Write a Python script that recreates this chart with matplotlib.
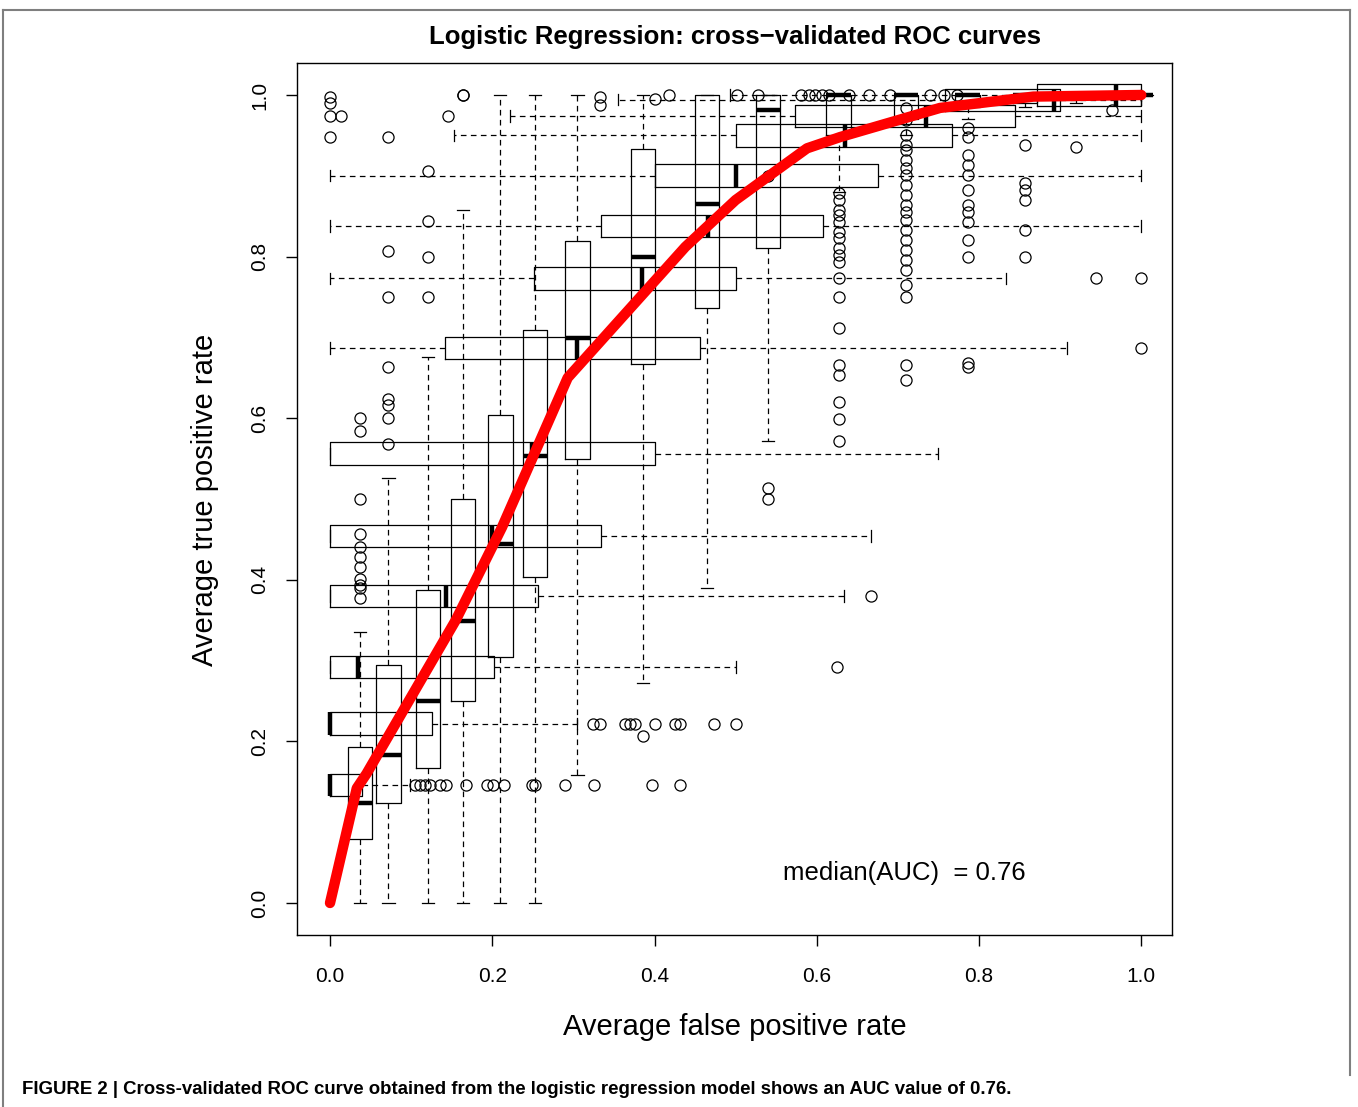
import numpy as np
import matplotlib
matplotlib.use('Agg')
import matplotlib.pyplot as plt
from matplotlib.lines import Line2D

plt.rcParams['font.family'] = ['Liberation Sans', 'DejaVu Sans']

# --- horizontal boxes: spread of FPR at fixed TPR levels ---
h_tpr = [0.146, 0.222, 0.292, 0.380, 0.454, 0.556, 0.687, 0.773, 0.838, 0.900, 0.950, 0.974, 0.994, 1.000]
h_q1 = [0.0, 0.0, 0.0, 0.0, 0.0, 0.0, 0.142, 0.252, 0.334, 0.400, 0.500, 0.573, 0.758, 0.872]
h_med = [0.0, 0.0, 0.035, 0.143, 0.200, 0.249, 0.305, 0.384, 0.466, 0.500, 0.635, 0.735, 0.893, 0.969]
h_q3 = [0.040, 0.126, 0.202, 0.256, 0.334, 0.400, 0.456, 0.500, 0.608, 0.675, 0.767, 0.844, 0.900, 1.0]
h_lo = [0.0, 0.0, 0.0, 0.0, 0.0, 0.0, 0.0, 0.0, 0.0, 0.0, 0.153, 0.222, 0.355, 0.493]
h_hi = [0.098, 0.305, 0.500, 0.633, 0.667, 0.750, 0.909, 0.833, 1.0, 1.0, 1.0, 1.0, 1.0, 1.0]
h_fliers = [
    [0.105, 0.111, 0.117, 0.123, 0.136, 0.143, 0.168, 0.194, 0.201, 0.215,
     0.249, 0.253, 0.290, 0.326, 0.397, 0.432],
    [0.324, 0.333, 0.364, 0.370, 0.376, 0.400, 0.425, 0.432, 0.473, 0.500],
    [0.625],
    [0.667],
    [], [],
    [1.0],
    [0.944, 1.0],
    [], [], [], [], [], [],
]

# --- vertical boxes: spread of TPR at fixed FPR levels ---
v_fpr = [0.037, 0.072, 0.121, 0.164, 0.210, 0.253, 0.305, 0.386, 0.465, 0.540, 0.627, 0.710, 0.786, 0.857, 0.920, 1.000]
v_q1 = [0.079, 0.124, 0.167, 0.250, 0.305, 0.403, 0.550, 0.667, 0.736, 0.811, 0.950, 0.970, 0.985, 0.990, 0.995, 1.0]
v_med = [0.124, 0.183, 0.250, 0.349, 0.444, 0.553, 0.699, 0.800, 0.865, 0.981, 1.0, 1.0, 1.0, 1.0, 1.0, 1.0]
v_q3 = [0.193, 0.295, 0.387, 0.500, 0.604, 0.709, 0.819, 0.933, 1.0, 1.0, 1.0, 1.0, 1.0, 1.0, 1.0, 1.0]
v_lo = [0.0, 0.0, 0.0, 0.0, 0.0, 0.0, 0.158, 0.272, 0.390, 0.572, 0.880, 0.950, 0.970, 0.985, 0.990, 1.0]
v_hi = [0.335, 0.526, 0.676, 0.858, 1.0, 1.0, 1.0, 1.0, 1.0, 1.0, 1.0, 1.0, 1.0, 1.0, 1.0, 1.0]
v_fliers = [
    [0.600, 0.584, 0.500, 0.457, 0.441, 0.428, 0.416, 0.401, 0.394, 0.390, 0.377],
    [0.948, 0.807, 0.750, 0.663, 0.624, 0.616, 0.600, 0.568],
    [0.906, 0.844, 0.800, 0.750],
    [1.0],
    [], [], [], [], [],
    [0.900, 0.513, 0.500],
    [0.879, 0.870, 0.858, 0.851, 0.843, 0.830, 0.823, 0.811, 0.802, 0.793,
     0.774, 0.750, 0.712, 0.666, 0.653, 0.620, 0.599, 0.572],
    [0.984, 0.969, 0.950, 0.938, 0.932, 0.920, 0.910, 0.901, 0.889, 0.876,
     0.864, 0.855, 0.845, 0.833, 0.821, 0.808, 0.796, 0.783, 0.765, 0.750,
     0.666, 0.647],
    [0.959, 0.948, 0.926, 0.913, 0.901, 0.882, 0.864, 0.855, 0.843, 0.821,
     0.800, 0.668, 0.663],
    [0.938, 0.891, 0.882, 0.870, 0.833, 0.800],
    [0.936],
    [],
]

# remaining outlying points near the top of the plot
extra_fpr = [0.0, 0.0, 0.0, 0.014, 0.0, 0.146, 0.164, 0.333, 0.333, 0.400, 0.418,
             0.502, 0.527, 0.580, 0.590, 0.598, 0.607, 0.615, 0.640, 0.665, 0.690,
             0.740, 0.757, 0.773, 0.964, 0.386]
extra_tpr = [0.998, 0.990, 0.974, 0.974, 0.948, 0.974, 1.0, 0.998, 0.988, 0.995, 1.0,
             1.0, 1.0, 1.0, 1.0, 1.0, 1.0, 1.0, 1.0, 1.0, 1.0,
             1.0, 1.0, 1.0, 0.981, 0.207]

# averaged ROC curve
roc_fpr = [0.0, 0.033, 0.045, 0.155, 0.212, 0.293, 0.438, 0.500, 0.588, 0.629, 0.752, 0.867, 1.0]
roc_tpr = [0.0, 0.142, 0.160, 0.350, 0.465, 0.650, 0.812, 0.870, 0.934, 0.948, 0.984, 0.998, 1.0]


def make_stats(q1, med, q3, lo, hi, fliers):
    return [dict(q1=a, med=m, q3=b, whislo=l, whishi=h, fliers=np.array(f, dtype=float))
            for a, m, b, l, h, f in zip(q1, med, q3, lo, hi, fliers)]


fig = plt.figure(figsize=(13.58, 11.07), dpi=100)
ax = fig.add_axes([0.2187, 0.1554, 0.6444, 0.7877])

box_kw = dict(
    showfliers=True, manage_ticks=False,
    boxprops=dict(color='black', lw=0.9),
    whiskerprops=dict(color='black', lw=0.9, ls=(0, (4.5, 3.5))),
    capprops=dict(color='black', lw=0.9),
    medianprops=dict(color='black', lw=3.2, solid_capstyle='butt'),
    flierprops=dict(marker='o', mfc='none', mec='black', ms=8, mew=0.9),
)

ax.bxp(make_stats(h_q1, h_med, h_q3, h_lo, h_hi, h_fliers), positions=h_tpr,
       widths=0.028, capwidths=0.014, orientation='horizontal', **box_kw)
ax.bxp(make_stats(v_q1, v_med, v_q3, v_lo, v_hi, v_fliers), positions=v_fpr,
       widths=0.030, capwidths=0.015, orientation='vertical', **box_kw)

ax.plot(extra_fpr, extra_tpr, ls='none', marker='o', mfc='none', mec='black', ms=8, mew=0.9)

ax.plot(roc_fpr, roc_tpr, color='red', lw=7.5, solid_capstyle='round',
        solid_joinstyle='round', zorder=10)

ax.text(0.558, 0.037, 'median(AUC)  = 0.76', fontsize=18.5, va='center', ha='left')

ax.set_xlim(-0.0407, 1.038)
ax.set_ylim(-0.0396, 1.0396)
ticks = [0.0, 0.2, 0.4, 0.6, 0.8, 1.0]
ax.set_xticks(ticks, ['%.1f' % t for t in ticks])
ax.set_yticks(ticks, ['%.1f' % t for t in ticks])
ax.tick_params(direction='out', length=8, width=1, labelsize=15, pad=15)
ax.tick_params(axis='y', labelrotation=90, pad=12)
for lbl in ax.get_yticklabels():
    lbl.set_va('center')
for s in ax.spines.values():
    s.set_linewidth(1.0)

fig.text(0.541, 0.9666, 'Logistic Regression: cross\u2212validated ROC curves',
         fontsize=18.5, fontweight='bold', ha='center', va='center')
fig.text(0.541, 0.0722, 'Average false positive rate', fontsize=21, ha='center', va='center')
fig.text(0.151, 0.548, 'Average true positive rate', fontsize=21, rotation=90,
         ha='center', va='center')
fig.text(0.0162, 0.0154,
         'FIGURE 2 | Cross-validated ROC curve obtained from the logistic regression model '
         'shows an AUC value of 0.76.',
         fontsize=13.4, fontweight='bold', ha='left', va='center')

# outer frame of the figure panel
W, H = 1358.0, 1107.0
frame = [((3, 10), (1350, 10)), ((3, 10), (3, 1107)), ((1350, 10), (1350, 1075))]
for (x0, y0), (x1, y1) in frame:
    fig.add_artist(Line2D([x0 / W, x1 / W], [1 - y0 / H, 1 - y1 / H],
                          color='#7f7f7f', lw=1.5, transform=fig.transFigure))

fig.savefig('out.png', dpi=100)
